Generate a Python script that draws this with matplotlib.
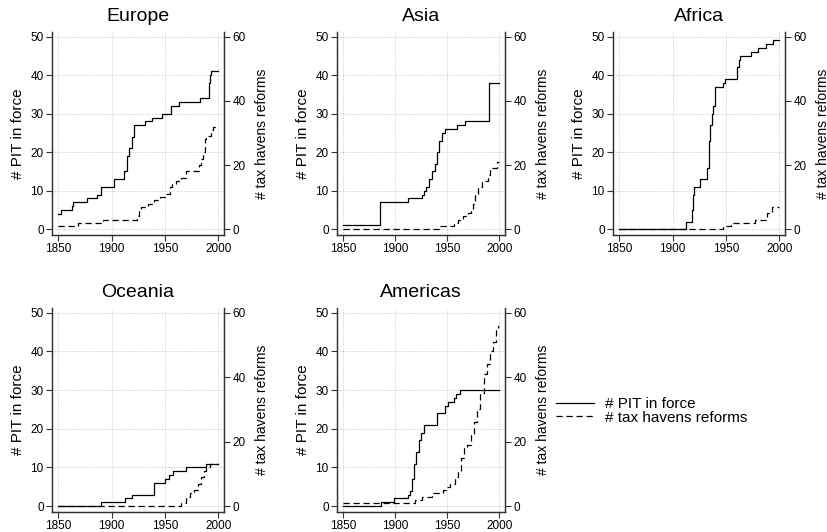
import numpy as np
import matplotlib.pyplot as plt

plt.rcParams['font.family'] = ['Liberation Sans', 'DejaVu Sans']

# step data: year where the count changes, and the new count
europe_pit_yr = [1850, 1852, 1863, 1864, 1877, 1886, 1890, 1902, 1912, 1914, 1916, 1919, 1921, 1931, 1938, 1947, 1956, 1963, 1983, 1991, 1992, 1993, 1995, 2000]
europe_pit = [4, 5, 6, 7, 8, 9, 11, 13, 15, 19, 21, 24, 27, 28, 29, 30, 32, 33, 34, 38, 40, 41, 41, 41]
europe_th_yr = [1850, 1868, 1892, 1924, 1926, 1928, 1930, 1934, 1940, 1945, 1951, 1955, 1957, 1960, 1965, 1970, 1982, 1984, 1986, 1988, 1989, 1993, 1995, 2000]
europe_th = [1, 2, 3, 4, 6, 7, 7, 8, 9, 10, 11, 13, 14, 15, 16, 18, 20, 22, 24, 28, 29, 31, 32, 32]

asia_pit_yr = [1850, 1885, 1912, 1926, 1928, 1930, 1932, 1935, 1938, 1940, 1942, 1945, 1948, 1959, 1967, 1990, 2000]
asia_pit = [1, 7, 8, 9, 10, 11, 13, 15, 17, 20, 23, 25, 26, 27, 28, 38, 38]
asia_th_yr = [1850, 1942, 1956, 1960, 1965, 1970, 1973, 1975, 1977, 1980, 1983, 1989, 1991, 1998, 2000]
asia_th = [0, 1, 2, 3, 4, 5, 6, 8, 11, 13, 15, 17, 19, 21, 21]

africa_pit_yr = [1850, 1913, 1918, 1919, 1920, 1921, 1926, 1932, 1934, 1935, 1937, 1938, 1940, 1942, 1947, 1949, 1960, 1962, 1963, 1965, 1974, 1980, 1988, 1994, 2000]
africa_pit = [0, 2, 5, 9, 11, 11, 13, 16, 23, 27, 30, 32, 37, 37, 38, 39, 42, 44, 45, 45, 46, 47, 48, 49, 49]
africa_th_yr = [1850, 1947, 1955, 1977, 1989, 1993, 2000]
africa_th = [0, 1, 2, 3, 5, 7, 7]

oceania_pit_yr = [1850, 1890, 1913, 1919, 1940, 1950, 1954, 1958, 1970, 1989, 2000]
oceania_pit = [0, 1, 2, 3, 6, 7, 8, 9, 10, 11, 11]
oceania_th_yr = [1850, 1965, 1970, 1974, 1977, 1981, 1984, 1987, 1989, 1992, 2000]
oceania_th = [0, 1, 3, 4, 5, 7, 9, 11, 12, 13, 13]

americas_pit_yr = [1850, 1886, 1899, 1912, 1914, 1916, 1918, 1920, 1923, 1925, 1928, 1932, 1940, 1948, 1951, 1956, 1958, 1962, 2000]
americas_pit = [0, 1, 2, 3, 4, 7, 11, 14, 17, 19, 21, 21, 24, 26, 27, 28, 29, 30, 30]
americas_th_yr = [1850, 1919, 1926, 1935, 1946, 1949, 1953, 1957, 1960, 1963, 1966, 1969, 1973, 1976, 1979, 1981, 1985, 1988, 1991, 1994, 1997, 1999, 2000]
americas_th = [1, 2, 3, 4, 5, 6, 7, 9, 11, 15, 18, 19, 22, 26, 30, 35, 41, 44, 48, 51, 55, 56, 56]

panels = [
    ("Europe", europe_pit_yr, europe_pit, europe_th_yr, europe_th),
    ("Asia", asia_pit_yr, asia_pit, asia_th_yr, asia_th),
    ("Africa", africa_pit_yr, africa_pit, africa_th_yr, africa_th),
    ("Oceania", oceania_pit_yr, oceania_pit, oceania_th_yr, oceania_th),
    ("Americas", americas_pit_yr, americas_pit, americas_th_yr, americas_th),
]

W, H = 827, 532
fig = plt.figure(figsize=(W / 100, H / 100), dpi=100)

# axes boxes in pixels: left, right, top, bottom
boxes = [(52, 224, 32, 235), (337, 505, 32, 235), (613, 785, 32, 235),
         (52, 224, 308, 512), (337, 505, 308, 512)]

dash = (0, (5, 3))
for (name, px, py, tx, ty), (l, r, t, b) in zip(panels, boxes):
    ax = fig.add_axes([l / W, 1 - b / H, (r - l) / W, (b - t) / H])
    ax2 = ax.twinx()
    ax.plot(px, py, color='black', lw=0.9, drawstyle='steps-post')
    ax2.plot(tx, ty, color='black', lw=0.9, linestyle=dash, drawstyle='steps-post')
    ax.set_xlim(1844, 2005.5)
    ax.set_ylim(-1.5, 51.2)
    ax2.set_ylim(-1.8, 61.44)
    ax.set_xticks([1850, 1900, 1950, 2000])
    ax.set_yticks(np.arange(0, 51, 10))
    ax2.set_yticks([0, 20, 40, 60])
    ax.grid(True, color='#c8c8c8', linestyle=(0, (1, 1.5)), lw=0.7)
    ax.set_axisbelow(True)
    for a in (ax, ax2):
        a.spines['top'].set_visible(False)
        for s in ('left', 'right', 'bottom'):
            a.spines[s].set_linewidth(0.9)
            a.spines[s].set_color('#333333')
        a.tick_params(labelsize=8.5, length=4, width=0.8, color='#333333', pad=2)
    ax.set_ylabel('# PIT in force', fontsize=11, labelpad=4)
    # the Africa label runs off the right edge, as in the original
    ax2.set_ylabel('# tax havens reforms', fontsize=10, labelpad=7)
    ax.set_title(name, fontsize=14, pad=8)

# legend in empty sixth slot
lax = fig.add_axes([556 / W, 1 - 429 / H, 260 / W, 36 / H])
lax.axis('off')
h1, = lax.plot([], [], color='black', lw=0.9)
h2, = lax.plot([], [], color='black', lw=0.9, linestyle=dash)
lax.legend([h1, h2], ['# PIT in force', '# tax havens reforms'], loc='center left',
           frameon=False, fontsize=11, handlelength=2.5, handletextpad=0.7,
           labelspacing=-0.05, borderaxespad=0, borderpad=0)

fig.savefig('out.png', dpi=100)
